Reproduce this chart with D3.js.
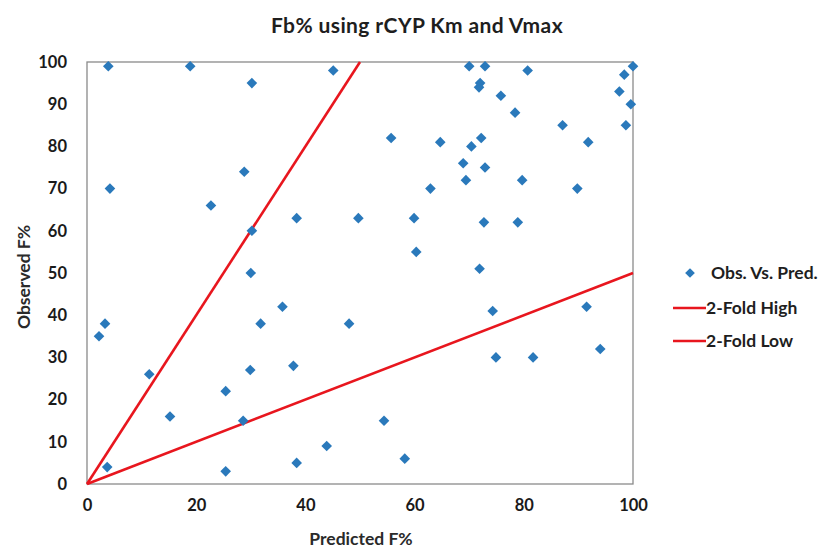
<!DOCTYPE html>
<html><head><meta charset="utf-8">
<script src="https://cdn.jsdelivr.net/npm/d3@7"></script>
<style>body{margin:0;background:#fff;} text{font-family:Lato,"Open Sans",sans-serif;}</style>
</head><body><svg id="c" width="828" height="548"></svg>
<script>
const predicted = [3.9,18.9,30.2,45.1,4.2,28.8,22.7,30.2,30,
55.7,64.7,70.4,68.9,69.4,62.9,38.4,49.7,59.9,60.3,
70,72.9,80.7,72,71.8,75.8,78.4,87.1,91.8,100,98.4,97.5,99.6,98.7,72.2,72.9,79.7,89.8,72.7,78.9,71.9,
3.3,2.2,31.8,35.8,11.4,29.9,25.4,15.2,28.6,3.7,25.4,
48,37.8,54.4,43.9,38.4,58.2,
74.3,91.5,74.9,81.7,94];
const observed = [99,99,95,98,70,74,66,60,50,
82,81,80,76,72,70,63,63,63,55,
99,99,98,95,94,92,88,85,81,99,97,93,90,85,82,75,72,70,62,62,51,
38,35,38,42,26,27,22,16,15,4,3,
38,28,15,9,5,6,
41,42,30,30,32];
const foldHigh = [[0,0],[50,100]];
const foldLow = [[0,0],[100,50]];
const xTicks = [0,20,40,60,80,100];
const yTicks = [0,10,20,30,40,50,60,70,80,90,100];
const legendLabels = ["Obs. Vs. Pred.","2-Fold High","2-Fold Low"];

const svg = d3.select("#c");
const L=87,R=633,T=62,B=484;
const x = d3.scaleLinear().domain([0,100]).range([L,R]);
const y = d3.scaleLinear().domain([0,100]).range([B,T]);
const blue="#2a79bb", red="#e8161e";

svg.append("rect").attr("x",L).attr("y",T).attr("width",R-L).attr("height",B-T)
  .attr("fill","none").attr("stroke","#8a8a8a").attr("stroke-width",1.3);

const xa = svg.append("g").attr("transform",`translate(0,${B})`)
  .call(d3.axisBottom(x).tickValues(xTicks).tickSize(0).tickPadding(15));
const ya = svg.append("g").attr("transform",`translate(${L},0)`)
  .call(d3.axisLeft(y).tickValues(yTicks).tickSize(0).tickPadding(20));
[xa,ya].forEach(a=>{a.select(".domain").remove();
  a.selectAll("text").attr("font-size",16.5).attr("font-weight","bold").attr("fill","#1a1a1a").style("font-family","Lato,sans-serif");});

const line = d3.line().x(d=>x(d[0])).y(d=>y(d[1]));
[foldHigh,foldLow].forEach(d=>svg.append("path").attr("d",line(d)).attr("fill","none").attr("stroke",red).attr("stroke-width",2.6));

const sym = d3.symbol().type(d3.symbolDiamond2).size(72);
svg.append("g").selectAll("path").data(predicted.map((p,i)=>[p,observed[i]])).join("path")
  .attr("d",sym).attr("transform",d=>`translate(${x(d[0])},${y(d[1])})`).attr("fill",blue);

svg.append("text").attr("x",417).attr("y",33).attr("text-anchor","middle").attr("font-size",21).attr("font-weight","bold").attr("letter-spacing",0.4).attr("fill","#1e1e1e").text("Fb% using rCYP Km and Vmax");
svg.append("text").attr("x",361).attr("y",545).attr("text-anchor","middle").attr("font-size",17.5).attr("font-weight","bold").attr("fill","#2a2a2a").text("Predicted F%");
svg.append("text").attr("transform","translate(30,277) rotate(-90)").attr("text-anchor","middle").attr("font-size",17.5).attr("font-weight","bold").attr("fill","#2a2a2a").text("Observed F%");

const lg = svg.append("g");
const ly=[273,308,341];
lg.append("path").attr("d",d3.symbol().type(d3.symbolDiamond2).size(60)).attr("transform",`translate(690,${ly[0]})`).attr("fill",blue);
[1,2].forEach(i=>lg.append("line").attr("x1",673).attr("x2",706).attr("y1",ly[i]).attr("y2",ly[i]).attr("stroke",red).attr("stroke-width",2.6));
legendLabels.forEach((t,i)=>lg.append("text").attr("x",i==0?711:706).attr("y",ly[i]+6).attr("font-size",17.5).attr("font-weight","bold").attr("fill","#1e1e1e").text(t));
</script></body></html>
